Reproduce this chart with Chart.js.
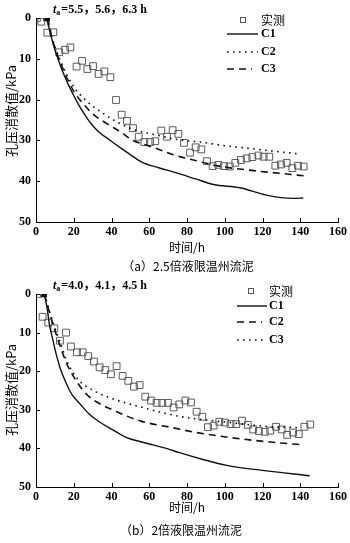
<!DOCTYPE html>
<html>
<head>
<meta charset="utf-8">
<script src="https://cdn.jsdelivr.net/npm/chart.js@4.4.0/dist/chart.umd.min.js"></script>
<style>
  body { margin: 0; background: #fff; width: 350px; height: 543px; overflow: hidden; }
  .box { position: relative; width: 350px; }
</style>
</head>
<body>
<div class="box" style="height:272px"><canvas id="chartA"></canvas></div>
<div class="box" style="height:271px"><canvas id="chartB"></canvas></div>
<script>
// ---- (a) 2.5倍液限温州流泥 ----
const measTimeA = [0.5, 2.8, 6.0, 9.2, 12.3, 15.4, 18.2, 21.5, 24.4, 27.2, 30.2, 33.2, 36.2, 39.4, 42.4, 45.4, 48.2, 51.4, 54.4, 57.4, 60.4, 63.2, 66.4, 69.4, 72.4, 75.4, 78.4, 81.6, 84.6, 87.6, 90.6, 93.6, 96.6, 99.6, 102.6, 105.6, 108.6, 111.6, 114.6, 117.8, 120.6, 123.6, 126.8, 129.8, 132.8, 135.8, 138.8, 141.8];
const measValA = [0, 0.9, 3.6, 3.5, 8.4, 7.8, 7.2, 11.9, 10.5, 12.5, 11.8, 13.7, 13.1, 14.5, 20.1, 23.7, 25.2, 27, 29.1, 30.4, 30.4, 30.2, 27.6, 29.1, 27.5, 28.4, 30.6, 33, 31.7, 32.2, 35.1, 36.3, 36, 36.3, 36.4, 35.5, 34.8, 34.4, 34.1, 33.7, 34, 34, 36.2, 35.9, 35.5, 36.8, 36.2, 36.4];
const c1TimeA = [5.6, 7, 8, 10, 12, 14, 17, 20, 23, 26, 29, 33, 39, 45, 50, 56, 65, 74, 85, 94, 108, 122, 136, 141.6];
const c1ValA  = [0, 2.6, 4.5, 7.8, 10.5, 13, 16.2, 19, 21.6, 23.8, 25.8, 27.8, 29.9, 31.9, 33.5, 35.3, 36.7, 37.9, 39.5, 40.8, 41.6, 43.4, 44.2, 44.1];
const c2TimeA = [5.6, 8, 10, 13, 17, 21, 26, 30, 35, 40, 45, 53, 65, 75, 87, 100, 112, 125, 139];
const c2ValA  = [0, 4, 7, 10.5, 14.5, 17.5, 20, 21.6, 23.2, 24.7, 26, 27.5, 28.8, 29.8, 30.4, 31.3, 31.9, 32.6, 33.3];
const c3TimeA = [6.3, 8, 10, 13, 17, 21, 26, 30, 38, 45, 51, 62, 74, 85, 97, 117, 130, 142.5];
const c3ValA  = [0, 4, 7.3, 11, 15.3, 18.7, 21.5, 23.5, 26, 28, 29.9, 31.7, 33.7, 35, 36.3, 37.5, 38.1, 38.7];

// ---- (b) 2倍液限温州流泥 ----
const measTimeB = [0.9, 3.5, 6.5, 9.7, 12.7, 15.9, 18.5, 21.7, 24.7, 27.7, 30.7, 33.7, 36.7, 39.7, 42.7, 45.9, 48.9, 51.9, 54.9, 57.9, 60.9, 63.9, 66.9, 69.9, 72.9, 75.9, 79.1, 82.1, 85.1, 88.1, 91.1, 94.1, 97.1, 100.1, 103.1, 106.1, 109.1, 112.2, 115.1, 118.1, 121.2, 124.1, 127.2, 130.2, 133.1, 136.2, 139.2, 142.2, 145.3];
const measValB  = [0, 5.9, 7.4, 8.9, 12.1, 10, 13.6, 15.1, 15.1, 16.1, 17.5, 19, 19.7, 20.8, 18.7, 21.2, 22.5, 24, 23.6, 26.6, 27.6, 28.2, 28.2, 28.2, 29.4, 28.6, 27.6, 28.1, 30.5, 31.8, 34.5, 34.1, 33.1, 33.3, 33.7, 33.7, 32.8, 33.9, 35.1, 35.5, 35.7, 35.4, 34.4, 35.1, 36.5, 35.9, 36.3, 34.4, 33.8];
const c1TimeB = [4.4, 6, 7, 9, 10.6, 13, 16, 19, 23, 28, 33.5, 40, 48, 55, 62, 69, 76, 88, 101, 120, 145];
const c1ValB  = [0, 4, 7.6, 12, 15.4, 19.5, 23.1, 26, 28.3, 31, 33.1, 35, 37.2, 38.2, 39.1, 40, 41.1, 42.8, 44.4, 45.7, 47.1];
const c2TimeB = [4.5, 6, 8, 10, 12, 14, 17, 22, 27, 34, 41.5, 48, 56, 72, 85, 100, 115, 130, 142];
const c2ValB  = [0, 2.8, 6.2, 9.4, 12.4, 15.2, 18.8, 23, 26.1, 28.5, 30.2, 31.6, 33, 34.6, 35.9, 37, 37.9, 38.6, 39.1];
const c3TimeB = [4.5, 6, 8, 10, 13, 16, 22, 30, 41.5, 55, 65, 77, 99, 125, 140];
const c3ValB  = [0, 2.6, 5.8, 8.8, 12.8, 17, 22, 24.9, 27.3, 29.2, 30.5, 31.8, 33.1, 34.4, 34.6];

const xTicks = [0, 20, 40, 60, 80, 100, 120, 140, 160];
const yTicks = [0, 10, 20, 30, 40, 50];

const NUM_FONT = '"Liberation Serif", "Noto Sans CJK SC", serif';
const CJK_FONT = '"Noto Sans CJK SC", "Liberation Serif", serif';

const pts = (xs, ys) => xs.map((x, i) => ({ x: x, y: ys[i] }));

const SOLID = [];
const DOTTED = [1.6, 4.4];
const DASHED = [7, 5];

function lineSet(label, xs, ys, dash) {
    return {
        type: 'line',
        label: label,
        data: pts(xs, ys),
        borderColor: '#111',
        borderWidth: dash.length ? 1.6 : 1.4,
        borderDash: dash,
        pointRadius: 0,
        fill: false,
        cubicInterpolationMode: 'monotone'
    };
}

function makeDecor(cfg) {
    return {
        id: 'decor',
        afterDraw(chart) {
            const ctx = chart.ctx;
            const xs = chart.scales.x, ys = chart.scales.y;
            ctx.save();
            // inward tick marks
            ctx.strokeStyle = '#000';
            ctx.lineWidth = 1;
            ctx.setLineDash([]);
            ctx.beginPath();
            xTicks.forEach(v => {
                const px = Math.round(xs.getPixelForValue(v)) + 0.5;
                ctx.moveTo(px, ys.bottom);
                ctx.lineTo(px, ys.bottom - 4);
            });
            yTicks.forEach(v => {
                const py = Math.round(ys.getPixelForValue(v)) + 0.5;
                ctx.moveTo(xs.left, py);
                ctx.lineTo(xs.left + 4, py);
            });
            ctx.stroke();

            // y axis title
            ctx.fillStyle = '#000';
            ctx.save();
            ctx.translate(11, cfg.yTitleY);
            ctx.rotate(-Math.PI / 2);
            ctx.textAlign = 'center';
            ctx.textBaseline = 'middle';
            ctx.font = '13px ' + CJK_FONT;
            ctx.fillText('孔压消散值/kPa', 0, 0);
            ctx.restore();

            // legend
            const lg = cfg.legend;
            ctx.textBaseline = 'middle';
            ctx.textAlign = 'left';
            ctx.strokeStyle = '#555';
            ctx.lineWidth = 1;
            ctx.strokeRect(lg.sqX - 2.5, lg.rows[0] - 2.5, 5, 5);
            ctx.font = '12px ' + CJK_FONT;
            ctx.fillText('实测', lg.textX, lg.rows[0]);
            ctx.font = 'bold 12px ' + NUM_FONT;
            cfg.order.forEach((dsIndex, i) => {
                const ds = chart.data.datasets[dsIndex];
                const y = lg.rows[i + 1];
                ctx.strokeStyle = '#111';
                ctx.lineWidth = ds.borderWidth;
                ctx.setLineDash(ds.borderDash);
                ctx.beginPath();
                ctx.moveTo(lg.lineX0, y);
                ctx.lineTo(lg.lineX1[i], y);
                ctx.stroke();
                ctx.setLineDash([]);
                ctx.fillText(ds.label, lg.textX, y);
            });

            // t_a annotation
            const an = cfg.note;
            ctx.font = 'italic bold 12px ' + NUM_FONT;
            ctx.fillText('t', an.x, an.y);
            const tw = ctx.measureText('t').width;
            ctx.font = 'bold 8px ' + NUM_FONT;
            ctx.fillText('a', an.x + tw, an.y + 3);
            const aw = ctx.measureText('a').width;
            ctx.font = 'bold 12px ' + NUM_FONT;
            ctx.fillText(an.text, an.x + tw + aw + 1, an.y);

            // caption
            ctx.textAlign = 'center';
            ctx.font = '12px ' + CJK_FONT;
            ctx.fillText(cfg.caption, cfg.capX, cfg.capY);
            ctx.restore();
        }
    };
}

function makeChart(id, meas, startPt, lines, cfg) {
    const datasets = [];
    lines.forEach(l => datasets.push(l));
    datasets.push({
        type: 'scatter',
        label: '实测',
        data: meas,
        pointStyle: 'rect',
        pointRadius: 4.8,
        borderColor: '#5a5a5a',
        borderWidth: 1,
        backgroundColor: 'rgba(255,255,255,0)'
    });
    datasets.push({
        type: 'scatter',
        label: 'start',
        data: [startPt],
        pointStyle: 'rect',
        pointRadius: 4,
        borderColor: '#000',
        borderWidth: 1,
        backgroundColor: '#000'
    });

    return new Chart(document.getElementById(id).getContext('2d'), {
        type: 'line',
        data: { datasets: datasets },
        options: {
            responsive: true,
            maintainAspectRatio: false,
            animation: false,
            devicePixelRatio: 1,
            layout: { padding: { left: 0, right: 12, top: cfg.padTop, bottom: 0 } },
            plugins: { legend: { display: false }, tooltip: { enabled: false } },
            scales: {
                x: {
                    type: 'linear',
                    min: 0,
                    max: 160,
                    afterBuildTicks: s => { s.ticks = xTicks.map(v => ({ value: v })); },
                    ticks: { color: '#000', padding: 3, font: { family: NUM_FONT, size: 12, weight: 'bold' } },
                    grid: { display: false, drawTicks: false },
                    border: { display: true, color: '#000', width: 1 },
                    title: {
                        display: true,
                        text: '时间/h',
                        color: '#000',
                        font: { family: CJK_FONT, size: 12 },
                        padding: { top: 0, bottom: cfg.xTitlePad }
                    },
                    afterFit: s => { s.height = cfg.xHeight; }
                },
                y: {
                    type: 'linear',
                    reverse: true,
                    min: 0,
                    max: 50,
                    afterBuildTicks: s => { s.ticks = yTicks.map(v => ({ value: v })); },
                    ticks: { color: '#000', padding: 5, font: { family: NUM_FONT, size: 12, weight: 'bold' } },
                    grid: { display: false, drawTicks: false },
                    border: { display: true, color: '#000', width: 1 },
                    title: { display: false },
                    afterFit: s => { s.width = 36; }
                }
            }
        },
        plugins: [makeDecor(cfg)]
    });
}

makeChart('chartA',
    pts(measTimeA, measValA),
    { x: 5.6, y: 0 },
    [
        lineSet('C1', c1TimeA, c1ValA, SOLID),
        lineSet('C2', c2TimeA, c2ValA, DOTTED),
        lineSet('C3', c3TimeA, c3ValA, DASHED)
    ],
    {
        padTop: 18, xHeight: 50, xTitlePad: 17, yTitleY: 111,
        order: [0, 1, 2],
        legend: { sqX: 243, textX: 261, lineX0: 227, lineX1: [258, 258, 252], rows: [20, 34, 52, 69] },
        note: { x: 53, y: 10, text: '=5.5，5.6，6.3 h' },
        caption: '（a）2.5倍液限温州流泥', capX: 188, capY: 266
    });

makeChart('chartB',
    pts(measTimeB, measValB),
    { x: 4.1, y: 0 },
    [
        lineSet('C1', c1TimeB, c1ValB, SOLID),
        lineSet('C2', c2TimeB, c2ValB, DASHED),
        lineSet('C3', c3TimeB, c3ValB, DOTTED)
    ],
    {
        padTop: 22, xHeight: 56, xTitlePad: 28, yTitleY: 118,
        order: [0, 1, 2],
        legend: { sqX: 251, textX: 269, lineX0: 237, lineX1: [267, 262, 267], rows: [19, 34, 50, 68] },
        note: { x: 53, y: 14, text: '=4.0，4.1，4.5 h' },
        caption: '（b）2倍液限温州流泥', capX: 181, capY: 258
    });
</script>
</body>
</html>
